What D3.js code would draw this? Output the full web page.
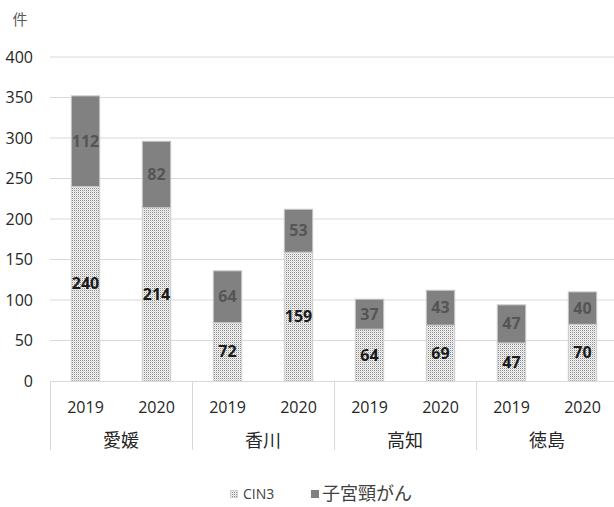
<!DOCTYPE html>
<html>
<head>
<meta charset="utf-8">
<script src="https://cdn.jsdelivr.net/npm/d3@7"></script>
<style>
  html, body { margin: 0; padding: 0; background: #fff; }
  svg { display: block; font-family: "Open Sans", "Noto Sans CJK JP", sans-serif; }
</style>
</head>
<body>
<svg id="chart" width="614" height="507"></svg>
<script>
// Prefecture / year categories
const regions = ["愛媛", "香川", "高知", "徳島"];
const years = ["2019", "2020"];
// Case counts per bar (region order, then year)
const cin3 = [240, 214, 72, 159, 64, 69, 47, 70];
const cervical = [112, 82, 64, 53, 37, 43, 47, 40];
const yTicks = [0, 50, 100, 150, 200, 250, 300, 350, 400];
const seriesNames = ["CIN3", "子宮頸がん"];

const svg = d3.select("#chart");
const margin = { left: 50, top: 57, bottom: 381 };
const plotRight = 618;

const keys = [];
regions.forEach(r => years.forEach(y => keys.push(r + "|" + y)));

const x = d3.scaleBand().domain(keys).range([margin.left, plotRight]).paddingInner(0.6).paddingOuter(0.3);
const y = d3.scaleLinear().domain([0, 400]).range([margin.bottom, margin.top]);

// dotted fill for CIN3
const defs = svg.append("defs");
const pat = defs.append("pattern").attr("id", "dots").attr("patternUnits", "userSpaceOnUse")
  .attr("width", 2).attr("height", 2);
pat.append("rect").attr("width", 2).attr("height", 2).attr("fill", "#f4f4f4");
pat.append("rect").attr("width", 1).attr("height", 1).attr("fill", "#8a8a8a");
pat.append("rect").attr("x", 1).attr("y", 1).attr("width", 1).attr("height", 1).attr("fill", "#d8d8d8");

// gridlines
svg.append("g").selectAll("line").data(yTicks.filter(d => d > 0)).join("line")
  .attr("x1", margin.left).attr("x2", plotRight)
  .attr("y1", d => y(d)).attr("y2", d => y(d))
  .attr("stroke", "#d9d9d9").attr("stroke-width", 1);

// y tick labels
svg.append("g").selectAll("text").data(yTicks).join("text")
  .attr("x", 33).attr("y", d => y(d)).attr("dy", "0.35em")
  .attr("text-anchor", "end").attr("font-size", 16).attr("fill", "#262626")
  .text(d => d);

svg.append("text").attr("x", 20).attr("y", 20).attr("dy", "0.35em")
  .attr("text-anchor", "middle").attr("font-size", 15).attr("fill", "#595959")
  .attr("font-family", "Noto Sans CJK JP").text("件");

const data = keys.map((k, i) => ({ key: k, a: cin3[i], b: cervical[i] }));

// CIN3 segments
svg.append("g").selectAll("rect").data(data).join("rect")
  .attr("x", d => x(d.key)).attr("width", x.bandwidth())
  .attr("y", d => y(d.a)).attr("height", d => y(0) - y(d.a))
  .attr("fill", "url(#dots)").attr("stroke", "#cfcfcf").attr("stroke-width", 1);

// cervical cancer segments
svg.append("g").selectAll("rect").data(data).join("rect")
  .attr("x", d => x(d.key)).attr("width", x.bandwidth())
  .attr("y", d => y(d.a + d.b)).attr("height", d => y(d.a) - y(d.a + d.b))
  .attr("fill", "#818181").attr("stroke", "#c8c8c8").attr("stroke-width", 1);

// value labels
svg.append("g").selectAll("text").data(data).join("text")
  .attr("x", d => x(d.key) + x.bandwidth() / 2).attr("y", d => y(d.a / 2)).attr("dy", "0.35em")
  .attr("text-anchor", "middle").attr("font-size", 16).attr("font-weight", "bold").attr("fill", "#1a1a1a")
  .text(d => d.a);
svg.append("g").selectAll("text").data(data).join("text")
  .attr("x", d => x(d.key) + x.bandwidth() / 2).attr("y", d => y(d.a + d.b / 2)).attr("dy", "0.35em")
  .attr("text-anchor", "middle").attr("font-size", 16).attr("font-weight", "bold").attr("fill", "#555555")
  .text(d => d.b);

// category axis
svg.append("line").attr("x1", margin.left).attr("x2", plotRight)
  .attr("y1", y(0) + 0.5).attr("y2", y(0) + 0.5).attr("stroke", "#d9d9d9");

const groupW = (plotRight - margin.left) / regions.length;
d3.range(regions.length + 1).forEach(i => {
  const gx = Math.round(margin.left + i * groupW) + 0.5;
  svg.append("line").attr("x1", gx).attr("x2", gx).attr("y1", y(0)).attr("y2", 450)
    .attr("stroke", "#d9d9d9");
});

svg.append("g").selectAll("text").data(data).join("text")
  .attr("x", d => x(d.key) + x.bandwidth() / 2).attr("y", 407).attr("dy", "0.35em")
  .attr("text-anchor", "middle").attr("font-size", 16).attr("fill", "#262626")
  .text(d => d.key.split("|")[1]);

svg.append("g").selectAll("text").data(regions).join("text")
  .attr("x", (d, i) => margin.left + (i + 0.5) * groupW).attr("y", 441).attr("dy", "0.35em")
  .attr("text-anchor", "middle").attr("font-size", 18).attr("fill", "#262626")
  .attr("font-family", "Noto Sans CJK JP")
  .text(d => d);

// legend
const leg = svg.append("g");
leg.append("rect").attr("x", 230.5).attr("y", 490.5).attr("width", 7).attr("height", 7)
  .attr("fill", "url(#dots)").attr("stroke", "#cfcfcf");
leg.append("text").attr("x", 243).attr("y", 494).attr("dy", "0.35em")
  .attr("font-size", 14).attr("fill", "#404040").text(seriesNames[0]);
leg.append("rect").attr("x", 311).attr("y", 490).attr("width", 8).attr("height", 8)
  .attr("fill", "#818181");
leg.append("text").attr("x", 322).attr("y", 494).attr("dy", "0.35em")
  .attr("font-size", 18).attr("fill", "#404040").attr("font-family", "Noto Sans CJK JP")
  .text(seriesNames[1]);
</script>
</body>
</html>
